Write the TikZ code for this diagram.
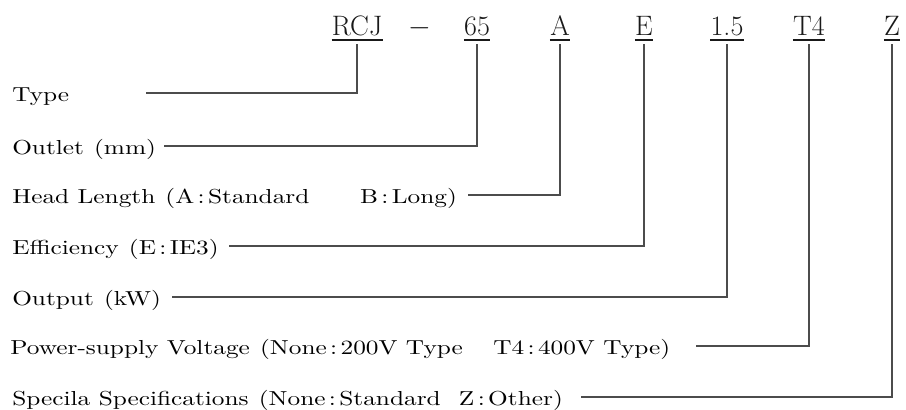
\documentclass[tikz,border=0pt]{standalone}
\usepackage{fontspec}
\newfontfamily\lblfont{lmroman10-regular.otf}[FakeStretch=1.25]
\usetikzlibrary{calc,positioning}

\begin{document}
\begin{tikzpicture}[x=0.025cm,y=-0.025cm,
  code/.style={anchor=base,inner sep=0pt,text=black!90,font=\fontsize{20}{24}\selectfont},
  lbl/.style={anchor=base west,inner sep=0pt,text=black,font=\lblfont\fontsize{14.4}{17}\selectfont},
  uline/.style={line width=0.9pt,draw=black!90},
  conn/.style={line width=0.8pt,draw=black!70}]
\useasboundingbox (0,0) rectangle (906,409);
% model code
\node[code] (rcj) at (357,35) {RCJ};
\node[code] (dash) at (420,35) {$-$};
\node[code] (out) at (477,35) {65};
\node[code] (hl) at (560,35) {A};
\node[code] (eff) at (644,35) {E};
\node[code] (kw) at (727,35) {1.5};
\node[code] (volt) at (809,35) {T4};
\node[code] (spec) at (892,35) {Z};
\foreach \c in {rcj,out,hl,eff,kw,volt,spec}
  \draw[uline] ([shift={(0,5)}]\c.base west) -- ([shift={(0,5)}]\c.base east);
% labels
\node[lbl] (ltype) at (12,101) {Type};
\node[lbl] (lout) at (12,154) {Outlet\enspace(mm)};
\node[lbl] (lhl) at (12,203) {Head Length\enspace(A\,:\,Standard\hspace{2.5em}B\,:\,Long)};
\node[lbl] (leff) at (12,254) {Efficiency\enspace(E\,:\,IE3)};
\node[lbl] (lkw) at (12,305) {Output\enspace(kW)};
\node[lbl] (lvolt) at (10,354) {Power-supply Voltage\enspace(None\,:\,200V Type\hspace{1.5em}T4\,:\,400V Type)};
\node[lbl] (lspec) at (12,405) {Specila Specifications\enspace(None\,:\,Standard\hspace{0.9em}Z\,:\,Other)};
% connectors
\draw[conn] ([shift={(0,9)}]rcj.base) |- ([shift={(76,-8)}]ltype.base east);
\draw[conn] ([shift={(0,9)}]out.base) |- ([shift={(8,-8)}]lout.base east);
\draw[conn] ([shift={(0,9)}]hl.base) |- ([shift={(11,-8)}]lhl.base east);
\draw[conn] ([shift={(0,9)}]eff.base) |- ([shift={(10,-8)}]leff.base east);
\draw[conn] ([shift={(0,9)}]kw.base) |- ([shift={(11,-8)}]lkw.base east);
\draw[conn] ([shift={(0,9)}]volt.base) |- ([shift={(25,-8)}]lvolt.base east);
\draw[conn] ([shift={(0,9)}]spec.base) |- ([shift={(18,-8)}]lspec.base east);
\end{tikzpicture}
\end{document}
